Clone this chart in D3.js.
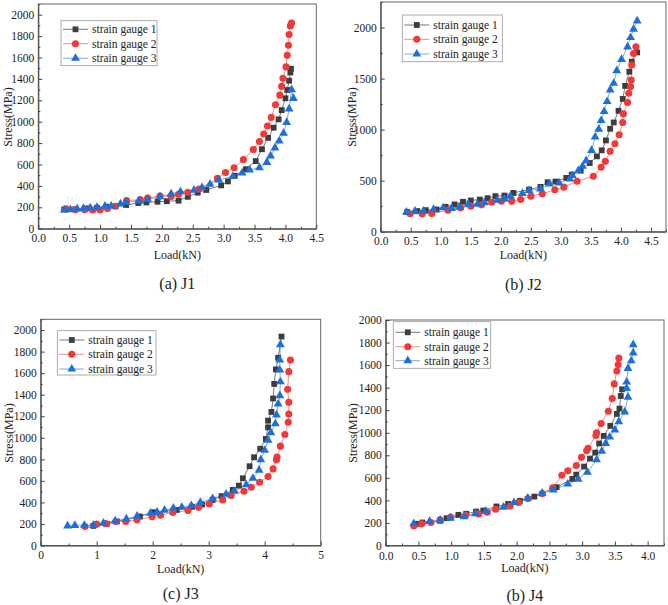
<!DOCTYPE html>
<html><head><meta charset="utf-8">
<script src="https://cdn.jsdelivr.net/npm/d3@7"></script>
<style>body{margin:0;background:#fff}svg{display:block}svg text{font-family:"Liberation Serif","Times New Roman",Times,"DejaVu Serif","Noto Serif",serif !important;fill:#222}</style>
</head><body><svg id="c" width="668" height="605"></svg>
<script>
const seriesNames = ["strain gauge 1","strain gauge 2","strain gauge 3"];
const captions = ["(a) J1","(b) J2","(c) J3","(b) J4"];
const xTicks1 = [0,0.5,1,1.5,2,2.5,3,3.5,4,4.5];
const xTicks3 = [0,1,2,3,4,5];
const yTicks200 = d3.range(0,2001,200);
const yTicks500 = [0,500,1000,1500,2000];

const j1g1 = [[0.42,180],[0.6,183],[0.78,190],[0.95,195],[1.1,205],[1.25,210],[1.42,222],[1.62,240],[1.75,245],[1.93,252],[2.08,257],[2.27,262],[2.42,298],[2.58,337],[2.72,362],[2.96,405],[3.07,442],[3.18,494],[3.36,556],[3.52,632],[3.62,743],[3.72,849],[3.81,944],[3.89,1022],[3.94,1108],[4.0,1219],[4.03,1296],[4.06,1383],[4.08,1460],[4.09,1495]];
const j1g2 = [[0.45,185],[0.6,178],[0.75,178],[0.88,175],[1.0,175],[1.12,188],[1.25,210],[1.43,262],[1.65,272],[1.77,287],[1.97,305],[2.15,302],[2.27,322],[2.42,340],[2.6,370],[2.9,470],[3.03,525],[3.17,570],[3.32,645],[3.48,740],[3.58,815],[3.65,885],[3.71,960],[3.77,1040],[3.84,1158],[3.91,1248],[3.94,1330],[3.96,1405],[4.01,1512],[4.03,1620],[4.05,1715],[4.06,1815],[4.08,1895],[4.1,1922]];
const j1g3 = [[0.42,175],[0.52,178],[0.63,185],[0.73,190],[0.84,195],[0.95,200],[1.08,210],[1.18,210],[1.33,232],[1.42,245],[1.63,260],[1.77,275],[1.97,300],[2.15,325],[2.3,345],[2.52,360],[2.65,385],[2.78,415],[2.92,455],[3.15,490],[3.3,520],[3.42,550],[3.58,570],[3.7,620],[3.76,680],[3.83,755],[3.9,820],[3.97,892],[4.02,994],[4.06,1120],[4.1,1300],[4.13,1217]];

const j2g1 = [[0.44,192],[0.61,202],[0.75,211],[0.93,218],[1.08,244],[1.23,267],[1.37,293],[1.5,306],[1.65,315],[1.78,328],[1.91,348],[2.06,354],[2.21,380],[2.47,413],[2.66,439],[2.78,485],[2.91,491],[3.09,527],[3.18,559],[3.33,598],[3.48,673],[3.6,738],[3.68,797],[3.75,894],[3.82,1008],[3.88,1070],[3.96,1184],[4.03,1301],[4.07,1428],[4.14,1567],[4.18,1665],[4.27,1756]];
const j2g2 = [[0.49,176],[0.69,176],[0.85,179],[1.12,211],[1.33,234],[1.5,250],[1.68,263],[1.85,289],[2.01,299],[2.18,299],[2.33,315],[2.5,348],[2.69,371],[2.9,410],[3.05,436],[3.27,494],[3.54,543],[3.67,631],[3.74,689],[3.82,787],[3.9,862],[3.97,950],[4.03,1070],[4.04,1154],[4.11,1265],[4.13,1356],[4.16,1421],[4.17,1486],[4.18,1633],[4.21,1746],[4.25,1811]];
const j2g3 = [[0.43,192],[0.57,202],[0.71,202],[0.88,218],[1.04,234],[1.18,228],[1.31,241],[1.46,270],[1.61,270],[1.73,283],[1.94,309],[2.06,322],[2.16,348],[2.36,374],[2.47,403],[2.66,420],[2.81,468],[2.97,478],[3.15,517],[3.19,550],[3.29,598],[3.36,641],[3.42,696],[3.51,797],[3.57,927],[3.63,1005],[3.67,1089],[3.72,1177],[3.77,1275],[3.82,1389],[3.88,1454],[3.93,1577],[4.01,1688],[4.11,1811],[4.16,1902],[4.21,1984],[4.27,2065]];

const j3g1 = [[0.94,182],[1.18,201],[1.36,223],[1.77,269],[2.02,309],[2.43,330],[2.7,360],[2.88,380],[3.07,425],[3.23,458],[3.43,516],[3.54,556],[3.61,624],[3.73,736],[3.81,819],[3.92,898],[4.02,989],[4.06,1097],[4.06,1159],[4.12,1240],[4.15,1365],[4.17,1500],[4.2,1635],[4.24,1743],[4.3,1940]];
const j3g2 = [[0.79,176],[1.0,198],[1.16,203],[1.34,223],[1.52,223],[1.72,238],[1.99,266],[2.14,281],[2.36,306],[2.63,325],[2.82,355],[3.01,386],[3.25,423],[3.4,465],[3.63,504],[3.76,541],[3.91,587],[4.06,640],[4.15,711],[4.21,795],[4.22,820],[4.28,922],[4.36,1030],[4.42,1144],[4.43,1221],[4.43,1329],[4.41,1450],[4.43,1614],[4.46,1722]];
const j3g3 = [[0.48,182],[0.61,187],[0.78,188],[0.94,188],[1.12,207],[1.33,229],[1.53,247],[1.72,272],[1.96,300],[2.08,310],[2.21,328],[2.37,348],[2.52,355],[2.69,371],[2.85,400],[3.07,436],[3.31,476],[3.46,506],[3.67,564],[3.79,624],[3.9,700],[3.93,797],[4.0,884],[4.06,978],[4.11,1048],[4.19,1130],[4.21,1212],[4.24,1315],[4.27,1391],[4.28,1520],[4.27,1629],[4.27,1722],[4.28,1865]];

const j4g1 = [[0.47,192],[0.56,204],[0.83,219],[0.93,242],[1.11,272],[1.23,281],[1.38,301],[1.49,310],[1.69,346],[1.87,369],[2.05,396],[2.27,434],[2.61,517],[2.85,591],[2.91,628],[3.03,700],[3.12,771],[3.2,824],[3.26,905],[3.33,972],[3.43,1061],[3.53,1167],[3.57,1214],[3.59,1326],[3.61,1385]];
const j4g2 = [[0.43,174],[0.55,192],[0.69,204],[0.83,227],[0.99,252],[1.22,268],[1.42,280],[1.55,295],[1.68,322],[1.9,350],[2.03,381],[2.17,416],[2.39,460],[2.55,511],[2.69,623],[2.78,662],[2.91,710],[2.99,782],[3.07,842],[3.09,863],[3.21,976],[3.22,1000],[3.29,1081],[3.4,1191],[3.46,1303],[3.49,1433],[3.53,1548],[3.55,1605],[3.56,1663]];
const j4g3 = [[0.43,195],[0.67,213],[0.83,225],[0.99,242],[1.2,255],[1.37,282],[1.53,305],[1.8,340],[1.96,381],[2.17,420],[2.39,464],[2.56,493],[2.78,545],[2.94,588],[3.08,650],[3.22,760],[3.3,836],[3.36,905],[3.42,962],[3.5,1025],[3.56,1098],[3.65,1185],[3.7,1315],[3.68,1394],[3.68,1450],[3.7,1570],[3.75,1638],[3.78,1708],[3.78,1782]];

const colors = ["#3d3d3d","#f03a3a","#1f6fd8"];
const lineColors = ["#555","#f07070","#5a94e0"];

const panels = [
  {data:[j1g1,j1g2,j1g3], box:[38.3,316.3,4,228.7], xd:[0,4.5], yd:[0,2100], xt:xTicks1, xfmt:d3.format(".1f"), xminor:0.25, yt:yTicks200, yminor:100,
   xlab:238.5, ttl:255, cap:283, ytx:8, yty:117, leg:[61,20.7,96,45], rows:[29.3,43.7,58.3]},
  {data:[j2g1,j2g2,j2g3], box:[380.7,666,2,231.7], xd:[0,4.75], yd:[0,2250], xt:xTicks1, xfmt:d3.format(".1f"), xminor:0.25, yt:yTicks500, yminor:250,
   xlab:241.5, ttl:255, cap:284.3, ytx:351.5, yty:117, leg:[402.3,15,100,46.7], rows:[25,39.3,54]},
  {data:[j3g1,j3g2,j3g3], box:[40.7,320.7,319.3,545.5], xd:[0,5], yd:[0,2100], xt:xTicks3, xfmt:d3.format("d"), xminor:0.5, yt:yTicks200, yminor:100,
   xlab:555, ttl:568.3, cap:593.3, ytx:8.5, yty:433, leg:[57.3,330.7,98.7,44.3], rows:[340,354.3,369]},
  {data:[j4g1,j4g2,j4g3], box:[385.7,664,320,545.5], xd:[0,4.25], yd:[0,2000], xt:xTicks1.slice(0,9), xfmt:d3.format(".1f"), xminor:0.25, yt:yTicks200, yminor:100,
   xlab:555.5, ttl:567.5, cap:595, ytx:352.5, yty:433, leg:[393.3,321.7,97.4,46.6], rows:[332.3,346.7,360.7]}
];

const FONT = '"Liberation Serif","Times New Roman",Times,"DejaVu Serif",serif';
const svg = d3.select("#c");
const triPath = d3.symbol().type(d3.symbolTriangle).size(34)();
const sqPath = d3.symbol().type(d3.symbolSquare).size(34)();
const cirPath = d3.symbol().type(d3.symbolCircle).size(40)();
const shapes = [sqPath, cirPath, triPath];

panels.forEach((p, pi) => {
  const [l, r, t, b] = p.box;
  const x = d3.scaleLinear().domain(p.xd).range([l, r]);
  const y = d3.scaleLinear().domain(p.yd).range([b, t]);
  const g = svg.append("g");
  g.append("rect").attr("x", l).attr("y", t).attr("width", r - l).attr("height", b - t)
    .attr("fill", "none").attr("stroke", "#666").attr("stroke-width", 1);
  const xa = g.append("g").attr("transform", `translate(0,${b})`)
    .call(d3.axisBottom(x).tickValues(p.xt).tickFormat(p.xfmt).tickSizeInner(-4).tickSizeOuter(0));
  const xm = d3.range(p.xd[0] + p.xminor, p.xd[1] + 1e-9, p.xminor*2).filter(v => !p.xt.some(tv => Math.abs(tv - v) < 1e-6));
  g.append("g").attr("transform", `translate(0,${b})`)
    .call(d3.axisBottom(x).tickValues(xm).tickFormat("").tickSizeInner(-2).tickSizeOuter(0))
    .call(s => s.select(".domain").remove());
  xa.select(".domain").attr("stroke", "#444");
  xa.selectAll(".tick text").attr("dy", null).attr("y", p.xlab - b + 4).attr("font-size", 11.5).attr("fill", "#333");
  const ya = g.append("g").attr("transform", `translate(${l},0)`)
    .call(d3.axisLeft(y).tickValues(p.yt).tickFormat(d3.format("d")).tickSizeInner(-4).tickSizeOuter(0));
  const ym = d3.range(p.yminor, p.yd[1] + 1e-9, p.yminor*2);
  g.append("g").attr("transform", `translate(${l},0)`)
    .call(d3.axisLeft(y).tickValues(ym).tickFormat("").tickSizeInner(-2).tickSizeOuter(0))
    .call(s => s.select(".domain").remove());
  ya.select(".domain").attr("stroke", "#444");
  ya.selectAll(".tick text").attr("x", -4).attr("font-size", 11.5).attr("fill", "#333");
  g.selectAll(".tick line").attr("stroke", "#444");
  g.selectAll("g").attr("font-family", FONT);
  g.append("text").attr("x", (l + r) / 2).attr("y", p.ttl).attr("dy", "0.35em").attr("text-anchor", "middle")
    .attr("font-size", 12).text("Load(kN)");
  g.append("text").attr("transform", `translate(${p.ytx},${p.yty}) rotate(-90)`).attr("dy", "0.35em")
    .attr("text-anchor", "middle").attr("font-size", 12).text("Stress(MPa)");
  g.append("text").attr("x", (l + r) / 2).attr("y", p.cap).attr("dy", "0.35em").attr("text-anchor", "middle")
    .attr("font-size", 16).attr("fill", "#111").text(captions[pi]);
  p.data.forEach((d, si) => {
    g.append("path").datum(d).attr("fill", "none").attr("stroke", lineColors[si]).attr("stroke-width", 0.8)
      .attr("d", d3.line().x(v => x(v[0])).y(v => y(v[1])));
  });
  p.data.forEach((d, si) => {
    g.selectAll(null).data(d).enter().append("path")
      .attr("transform", v => `translate(${x(v[0])},${y(v[1])})`)
      .attr("d", shapes[si]).attr("fill", colors[si]);
  });
  const [lx, ly, lw, lh] = p.leg;
  g.append("rect").attr("x", lx).attr("y", ly).attr("width", lw).attr("height", lh)
    .attr("fill", "#fff").attr("stroke", "#999").attr("stroke-width", 0.8);
  seriesNames.forEach((n, si) => {
    const ry = p.rows[si];
    g.append("line").attr("x1", lx + 2).attr("x2", lx + 27).attr("y1", ry).attr("y2", ry)
      .attr("stroke", lineColors[si]).attr("stroke-width", 0.8);
    g.append("path").attr("transform", `translate(${lx + 14.5},${ry})`).attr("d", shapes[si]).attr("fill", colors[si]);
    g.append("text").attr("x", lx + 31).attr("y", ry).attr("dy", "0.35em").attr("font-size", 11.5).text(n);
  });
});
</script></body></html>
